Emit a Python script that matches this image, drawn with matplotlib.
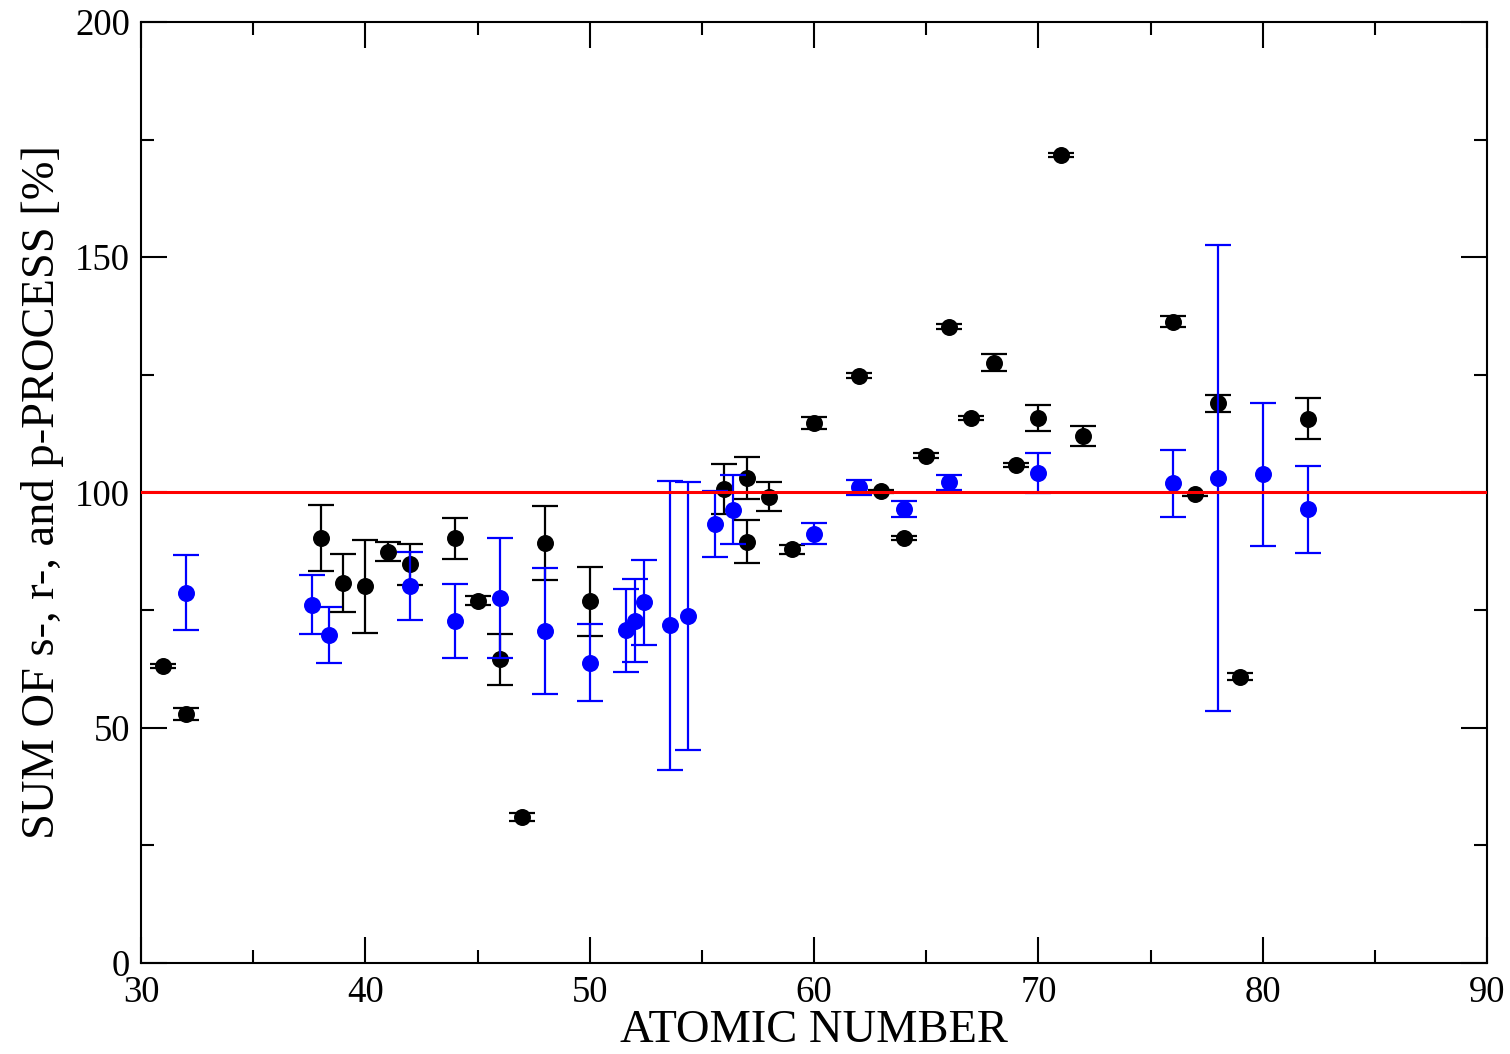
import numpy as np
import matplotlib
import matplotlib.pyplot as plt
from matplotlib.ticker import MultipleLocator

matplotlib.use('Agg')

# black points (atomic number, sum [%], error)
black_z   = [31, 32, 38, 39, 40, 41, 42, 44, 45, 46, 47, 48, 50, 56, 57, 57, 58, 59,
             60, 62, 63, 64, 65, 66, 67, 68, 69, 70, 71, 72, 76, 77, 78, 79, 82]
black_sum = [63.1, 52.9, 90.3, 80.7, 80.0, 87.4, 84.7, 90.2, 77.0, 64.5, 31.0, 89.3, 76.8,
             100.7, 103.1, 89.5, 99.1, 87.9, 114.7, 124.8, 100.2, 90.3, 107.8, 135.2,
             115.8, 127.6, 105.8, 115.8, 171.7, 112.0, 136.3, 99.6, 118.9, 60.8, 115.7]
black_err = [0.5, 1.2, 7.0, 6.1, 9.8, 2.0, 4.4, 4.4, 1.0, 5.4, 0.8, 7.9, 7.4,
             5.3, 4.5, 4.6, 3.0, 1.0, 1.3, 0.5, 0.3, 0.5, 0.5, 0.5,
             0.5, 1.8, 0.5, 2.7, 0.5, 2.1, 1.1, 0.3, 1.8, 0.7, 4.3]

# blue points
blue_z   = [32, 37.6, 38.4, 42, 44, 46, 48, 50, 51.6, 52, 52.4, 53.6, 54.4, 55.6, 56.4,
            60, 62, 64, 66, 70, 76, 78, 80, 82]
blue_sum = [78.7, 76.1, 69.7, 80.1, 72.7, 77.5, 70.5, 63.8, 70.7, 72.7, 76.6, 71.7, 73.7,
            93.3, 96.3, 91.2, 101.1, 96.5, 102.1, 104.1, 101.9, 103.0, 103.9, 96.4]
blue_err = [7.9, 6.25, 5.9, 7.3, 7.9, 12.7, 13.4, 8.15, 8.8, 8.8, 9.1, 30.8, 28.5,
            7.0, 7.3, 2.2, 1.6, 1.7, 1.7, 4.2, 7.2, 49.5, 15.2, 9.25]

plt.rcParams['font.family'] = ['Liberation Serif', 'DejaVu Serif']

fig = plt.figure(figsize=(15.1, 10.54), dpi=100)
ax = fig.add_axes([0.0934, 0.0866, 0.8914, 0.8925])

ax.errorbar(black_z, black_sum, yerr=black_err, fmt='o', color='black',
            ms=11.2, elinewidth=1.6, capsize=9.5, capthick=1.6, zorder=3)
ax.errorbar(blue_z, blue_sum, yerr=blue_err, fmt='o', color='#0000ff',
            ms=11.2, elinewidth=1.6, capsize=9.5, capthick=1.6, zorder=4)
ax.axhline(100, color='#ff0000', lw=2.2, zorder=5)

ax.set_xlim(30, 90)
ax.set_ylim(0, 200)
ax.xaxis.set_major_locator(MultipleLocator(10))
ax.xaxis.set_minor_locator(MultipleLocator(5))
ax.yaxis.set_major_locator(MultipleLocator(50))
ax.yaxis.set_minor_locator(MultipleLocator(25))
ax.tick_params(which='both', direction='in', top=True, right=True, width=1.5)
ax.tick_params(which='major', length=19, labelsize=26.5)
ax.tick_params(axis='x', which='major', pad=9)
ax.tick_params(axis='y', which='major', pad=8)
ax.tick_params(which='minor', length=9.5)
for s in ax.spines.values():
    s.set_linewidth(1.5)

ax.set_xlabel('ATOMIC NUMBER', fontsize=33.5, labelpad=0)
ax.set_ylabel('SUM OF s-, r-, and p-PROCESS [%]', fontsize=33.5, labelpad=8)

fig.savefig('out.png', dpi=100)
